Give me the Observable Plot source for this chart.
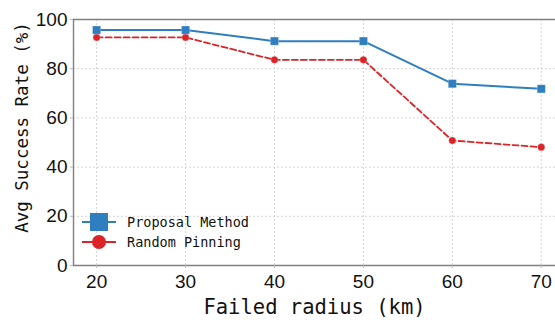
<!DOCTYPE html>
<html><head><meta charset="utf-8">
<script src="https://cdn.jsdelivr.net/npm/d3@7"></script>
<script src="https://cdn.jsdelivr.net/npm/@observablehq/plot@0.6"></script>
<style>
body{margin:0;background:#fff}
#wrap{position:relative;width:555px;height:320px;overflow:hidden}
#legend{position:absolute;left:80px;top:210px}
</style>
</head><body><div id="wrap"></div>
<script>
const radius = [20, 30, 40, 50, 60, 70];
const proposal = [95.7, 95.7, 91.2, 91.2, 73.9, 71.8];
const randomPin = [92.7, 92.7, 83.6, 83.6, 50.8, 48.1];
const yTicks = [0, 20, 40, 60, 80, 100];
const yGrid = [20, 40, 60, 80];
const seriesNames = ["Proposal Method", "Random Pinning"];
const colors = ["#2f7ebf", "#dc2328"];
const xLabel = "Failed radius (km)";
const yLabel = "Avg Success Rate (%)";

const propData = radius.map((r, i) => ({r, v: proposal[i]}));
const randData = radius.map((r, i) => ({r, v: randomPin[i]}));
const xMin = 17.4;

const mono = "'DejaVu Sans Mono', monospace";
const chart = Plot.plot({
  width: 555, height: 320,
  marginLeft: 73, marginTop: 19, marginBottom: 55, marginRight: 0,
  style: {fontFamily: "'Liberation Sans', Arial, sans-serif", background: "#fff"},
  x: {domain: [xMin, 71.6]},
  y: {domain: [0, 100]},
  marks: [
    Plot.ruleY(yGrid, {stroke: "#d4d4d4", strokeDasharray: "2,2", strokeWidth: 1}),
    Plot.ruleX(radius, {y1: 0, y2: 100, stroke: "#d4d4d4", strokeDasharray: "2,2", strokeWidth: 1}),
    Plot.ruleY([0, 100], {stroke: "#7f7f7f", strokeWidth: 1.4}),
    Plot.ruleX([xMin], {y1: 0, y2: 100, stroke: "#7f7f7f", strokeWidth: 1.4}),
    Plot.axisY({ticks: yTicks, tickSize: 3, tickPadding: 3, fontSize: 19, stroke: "#bbb", fill: "#111", label: null, tickFormat: d => d}),
    Plot.axisX({ticks: radius, tickSize: 3, tickPadding: 6, fontSize: 19, stroke: "#bbb", fill: "#111", label: null, tickFormat: d => d}),
    Plot.line(randData, {x: "r", y: "v", stroke: colors[1], strokeWidth: 1.8, strokeDasharray: "6,3"}),
    Plot.dot(randData, {x: "r", y: "v", r: 3.6, fill: colors[1], stroke: "#fff", strokeOpacity: 0.4, strokeWidth: 0.6}),
    Plot.line(propData, {x: "r", y: "v", stroke: colors[0], strokeWidth: 2}),
    Plot.dot(propData, {x: "r", y: "v", symbol: "square", r: 4.6, fill: colors[0], stroke: "#fff", strokeOpacity: 0.4, strokeWidth: 0.6}),
    Plot.text([xLabel], {frameAnchor: "bottom", dy: 42, text: d => d, textAnchor: "middle", lineAnchor: "middle", fontSize: 20.5, fontFamily: mono, fill: "#111"}),
    Plot.text([yLabel], {frameAnchor: "left", dx: -51, dy: -15, rotate: -90, text: d => d, textAnchor: "middle", lineAnchor: "middle", fontSize: 17.5, fontFamily: mono, fill: "#111"})
  ]
});
document.getElementById("wrap").appendChild(chart);

// legend
const leg = d3.select("#wrap").append("svg").attr("id", "legend").attr("width", 200).attr("height", 44);
seriesNames.forEach((name, i) => {
  const g = leg.append("g").attr("transform", `translate(0,${12 + i * 20})`);
  g.append("line").attr("x1", 2).attr("x2", 36).attr("y1", 0).attr("y2", 0)
    .attr("stroke", colors[i]).attr("stroke-width", 2.2);
  if (i === 0) {
    g.append("rect").attr("x", 10).attr("y", -9).attr("width", 18).attr("height", 18).attr("fill", colors[i]);
  } else {
    g.append("circle").attr("cx", 19).attr("cy", 0).attr("r", 7).attr("fill", colors[i]);
  }
  g.append("text").attr("x", 47).attr("y", 0).attr("dy", "0.35em")
    .attr("font-family", mono).attr("font-size", 13.5).attr("fill", "#111").text(name);
});
</script>
</body></html>
